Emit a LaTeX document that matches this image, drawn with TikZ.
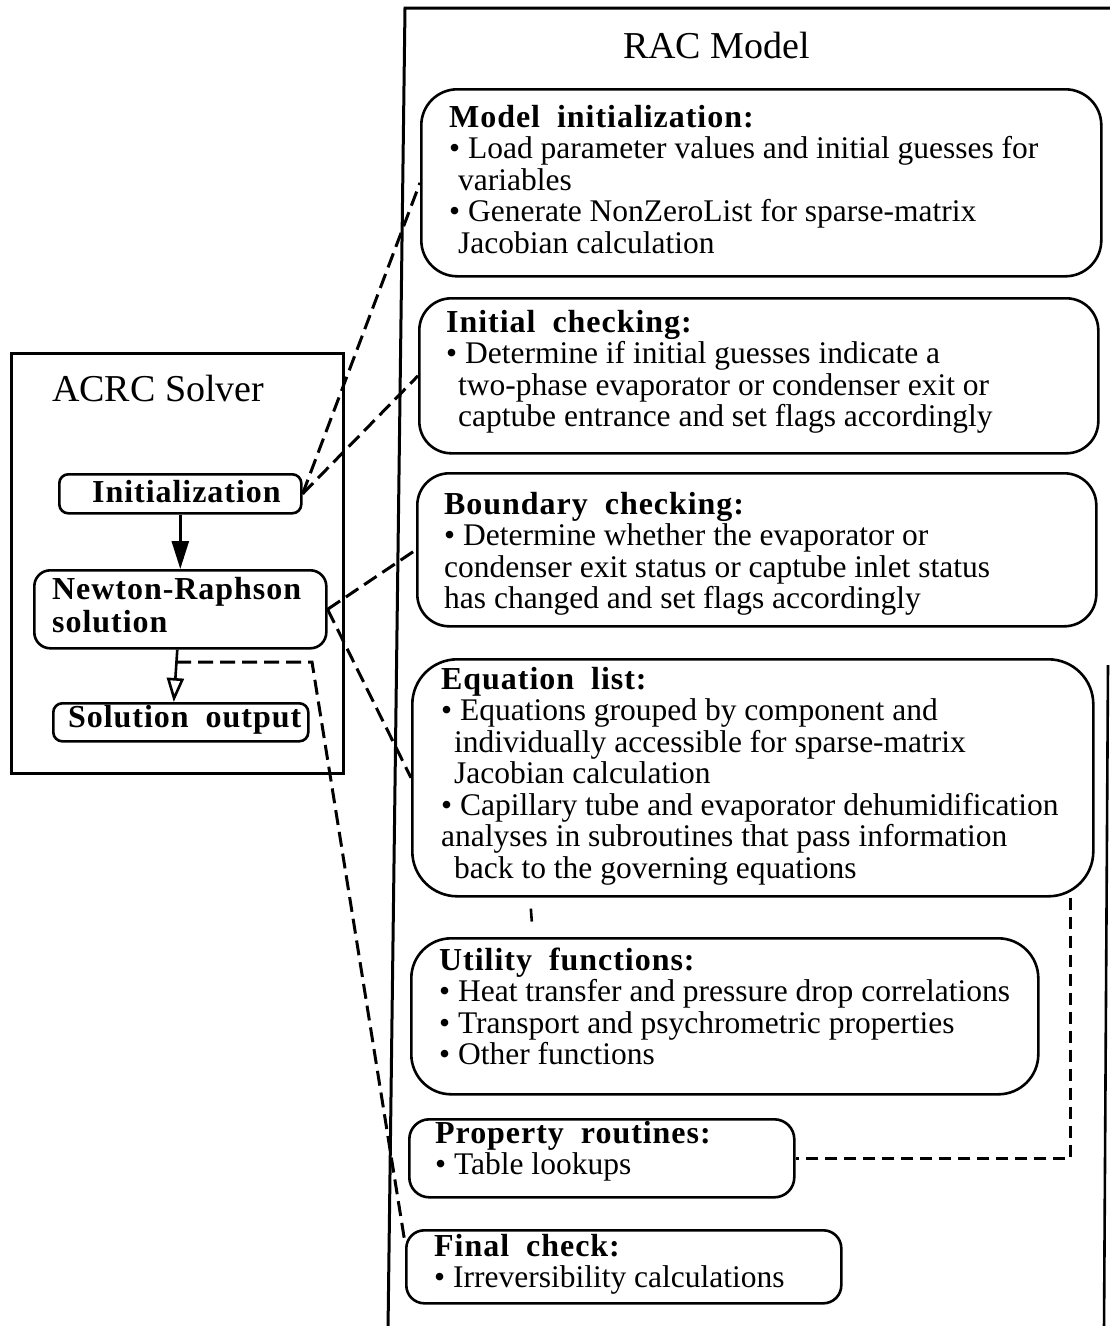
\documentclass[tikz,border=0pt]{standalone}
\usepackage{fontspec}
\setmainfont{Liberation Serif}
\newfontfamily\hdfam[LetterSpace=3,WordSpace=1.9]{Liberation Serif}
\usetikzlibrary{arrows.meta}
\newcommand{\bodyfont}{\fontsize{31.5}{31.5}\selectfont\lineskiplimit=-100pt}
\newcommand{\hdfont}{\hdfam\bfseries\fontsize{32}{33}\selectfont\lineskiplimit=-100pt}
\newcommand{\hd}[1]{{\hdfam\bfseries\fontsize{32}{31.5}\selectfont #1}}
\newcommand{\ttlfont}{\fontsize{38}{40}\selectfont}
\tikzset{
  rbox/.style={draw, line width=2.6pt, rounded corners=#1, inner sep=0pt, anchor=north west},
  rbox/.default=35pt,
  txt/.style={inner sep=0pt, anchor=base west, font=\bodyfont},
  hdtxt/.style={inner sep=0pt, anchor=base west, font=\hdfont},
  ttl/.style={inner sep=0pt, anchor=base west, font=\ttlfont},
  dsh/.style={line width=3pt, dash pattern=on 15pt off 7pt},
  fdsh/.style={line width=2.6pt, dash pattern=on 12pt off 7pt},
  solid arrow/.style={line width=2.6pt, -{Triangle[length=28pt,width=17pt]}},
  open arrow/.style={line width=2.6pt, -{Triangle[open,length=24pt,width=17pt]}},
}
\begin{document}
\begin{tikzpicture}[x=1pt,y=-1pt]
\useasboundingbox (0,0) rectangle (1110,1326);
\fill[white] (0,0) rectangle (1110,1326);

% ---------- RAC Model frame ----------
\draw[line width=3pt] (388,1330) -- (405,8) -- (1115,8);
\draw[line width=2.6pt] (1108,665) -- (1104,1330);
\node[ttl] (racT) at (623,58) {RAC Model};

% ---------- right column boxes ----------
\node[rbox=36pt, minimum width=680pt, minimum height=187pt] (mi) at (420,88) {};
\node[rbox=32pt, minimum width=679pt, minimum height=155pt] (ic) at (418,297) {};
\node[rbox=32pt, minimum width=679pt, minimum height=153pt] (bc) at (416,472) {};
\node[rbox=45pt, minimum width=681pt, minimum height=237pt] (eq) at (411,658) {};
\node[rbox=40pt, minimum width=627pt, minimum height=156pt] (ut) at (410,937) {};
\node[rbox=20pt, minimum width=385pt, minimum height=78pt] (pr) at (408,1118) {};
\node[rbox=18pt, minimum width=435pt, minimum height=73pt] (fc) at (405,1229) {};

\node[txt] (miT) at (449,127) {\parbox[t]{650pt}{\hd{Model initialization:}\\
\textbullet\ Load parameter values and initial guesses for\\
\hspace*{9pt}variables\\
\textbullet\ Generate NonZeroList for sparse-matrix\\
\hspace*{9pt}Jacobian calculation}};

\node[txt] (icT) at (446,332) {\parbox[t]{650pt}{\hd{Initial checking:}\\
\textbullet\ Determine if initial guesses indicate a\\
\hspace*{12pt}two-phase evaporator or condenser exit or\\
\hspace*{12pt}captube entrance and set flags accordingly}};

\node[txt] (bcT) at (444,514) {\parbox[t]{650pt}{\hd{Boundary checking:}\\
\textbullet\ Determine whether the evaporator or\\
condenser exit status or captube inlet status\\
has changed and set flags accordingly}};

\node[txt] (eqT) at (441,689) {\parbox[t]{660pt}{\hd{Equation list:}\\
\textbullet\ Equations grouped by component and\\
\hspace*{13pt}individually accessible for sparse-matrix\\
\hspace*{13pt}Jacobian calculation\\
\textbullet\ Capillary tube and evaporator dehumidification\\
analyses in subroutines that pass information\\
\hspace*{13pt}back to the governing equations}};

\node[txt] (utT) at (439,970) {\parbox[t]{620pt}{\hd{Utility functions:}\\
\textbullet\ Heat transfer and pressure drop correlations\\
\textbullet\ Transport and psychrometric properties\\
\textbullet\ Other functions}};

\node[txt] (prT) at (435,1143) {\parbox[t]{380pt}{\hd{Property routines:}\\
\textbullet\ Table lookups}};

\node[txt] (fcT) at (434,1256) {\parbox[t]{420pt}{\hd{Final check:}\\
\textbullet\ Irreversibility calculations}};

% ---------- ACRC Solver ----------
\node[draw, line width=3pt, inner sep=0pt, anchor=north west,
      minimum width=332pt, minimum height=420pt] (acrc) at (10,352) {};
\node[ttl] (acrcT) at (52,401) {ACRC Solver};

\node[rbox=9pt, minimum width=242pt, minimum height=39pt] (init) at (58,473) {};
\node[rbox=16pt, minimum width=292pt, minimum height=78pt] (nr) at (33,569) {};
\node[rbox=9pt, minimum width=255pt, minimum height=38pt] (so) at (52,702) {};

\node[hdtxt] (initT) at (92,502) {Initialization};
\node[hdtxt] (nrT) at (52,599) {\parbox[t]{280pt}{Newton-Raphson\\solution}};
\node[hdtxt] (soT) at (68,727) {Solution output};

% ---------- solid arrows ----------
\draw[solid arrow] (init.south) -- (nr.north);
\draw[open arrow] ([xshift=-3pt]nr.south) -- ([xshift=-7pt]so.north);

% ---------- dashed connectors ----------
\draw[dsh] (init.east) -- (mi.west);
\draw[dsh] (init.east) -- (ic.west);
\draw[dsh] (nr.east) -- (bc.west);
\draw[dsh] (nr.east) -- (eq.west);
\coordinate (j) at (176,662);
\coordinate (k) at (312,662);
\draw[dsh] (j) -- (k) -- ([yshift=-14pt]fc.north west);
\draw[fdsh, dash pattern=on 0pt off 11pt on 13pt off 100pt]
  ([xshift=119pt]eq.south west) -- ([xshift=123pt]ut.north west);
\draw[fdsh] ([xshift=-24pt]eq.south east) |- (pr.east);
\end{tikzpicture}
\end{document}
